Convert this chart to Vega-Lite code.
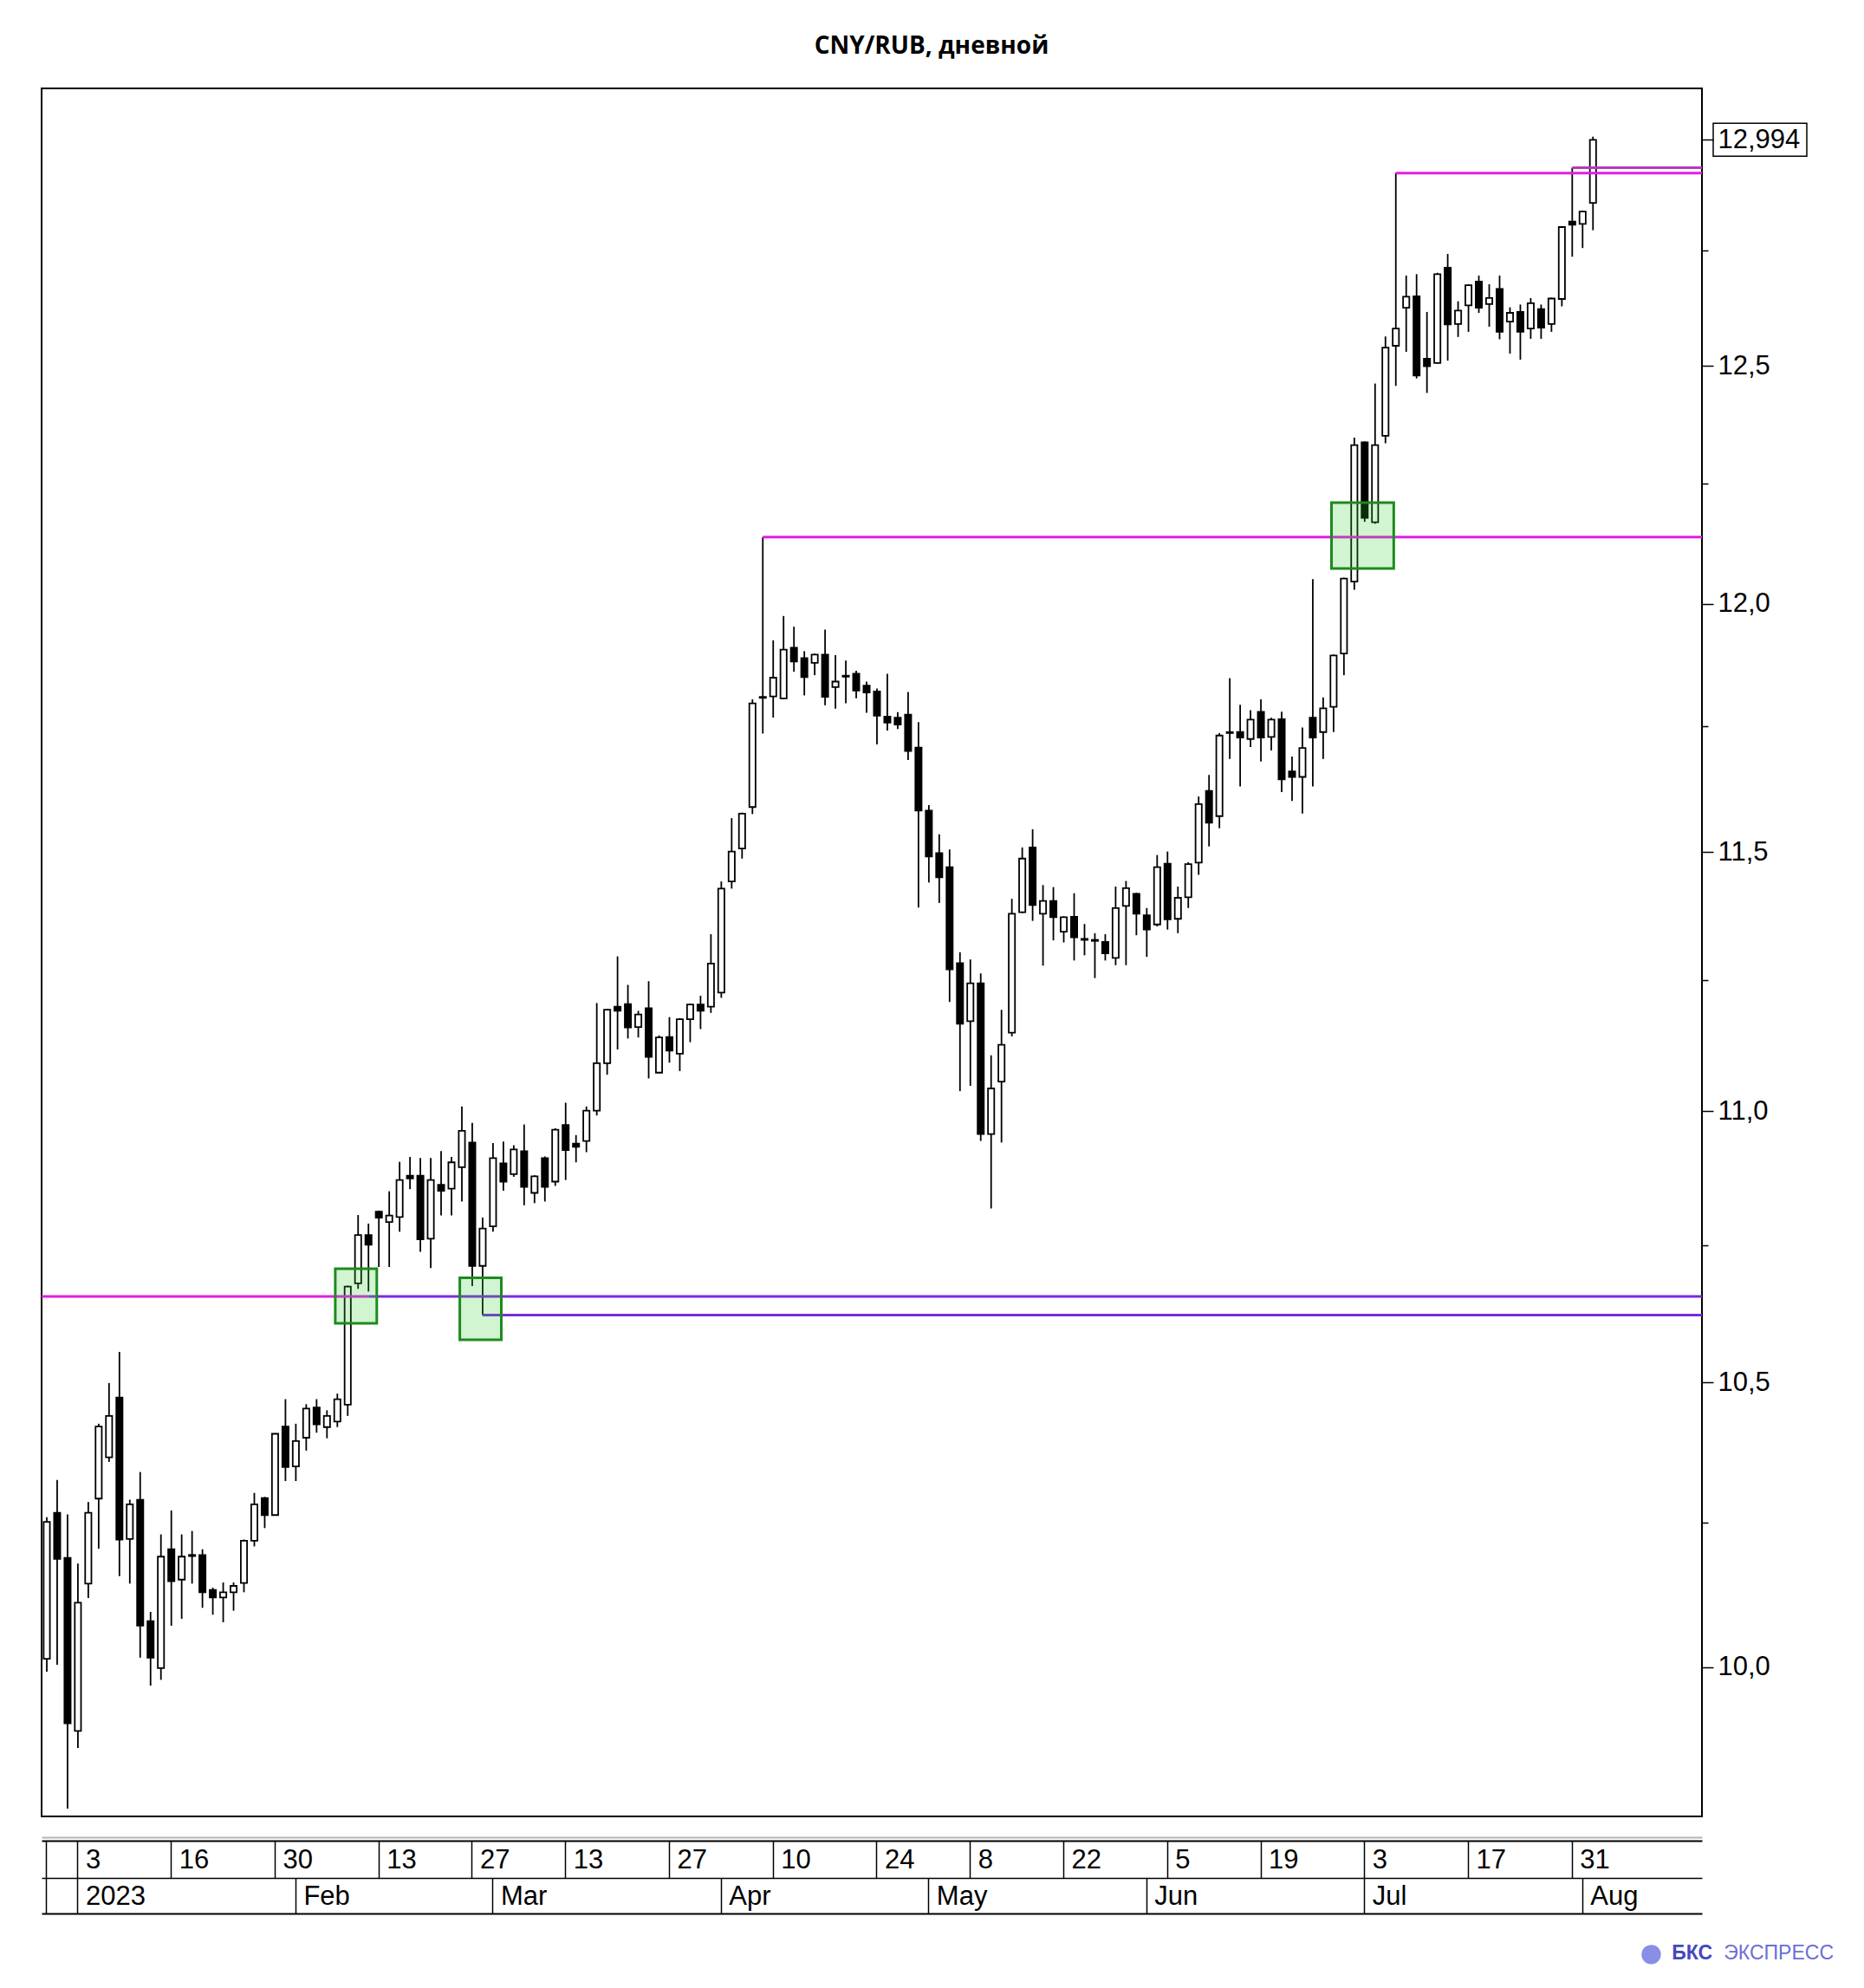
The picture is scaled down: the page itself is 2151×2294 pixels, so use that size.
{
  "$schema": "https://vega.github.io/schema/vega-lite/v6.json",
  "width": 1916,
  "height": 1994,
  "autosize": {"type": "none"},
  "padding": {"left": 48, "top": 102, "right": 187, "bottom": 198},
  "background": "white",
  "title": {"text": "CNY/RUB, дневной", "font": "Open Sans", "fontSize": 28, "fontWeight": "bold", "color": "black", "anchor": "middle", "dx": 69, "baseline": "middle", "offset": 20},
  "config": {"view": {"stroke": "black", "strokeWidth": 2}},
  "datasets": {
    "candles": [
      {"d":"2022-12-28","o":10.014,"h":10.26,"l":9.992,"c":10.252},
      {"d":"2022-12-29","o":10.268,"h":10.326,"l":10.004,"c":10.187},
      {"d":"2022-12-30","o":10.189,"h":10.265,"l":9.760,"c":9.904},
      {"d":"2023-01-03","o":9.891,"h":10.179,"l":9.862,"c":10.111},
      {"d":"2023-01-04","o":10.144,"h":10.287,"l":10.119,"c":10.268},
      {"d":"2023-01-05","o":10.293,"h":10.426,"l":10.205,"c":10.421},
      {"d":"2023-01-06","o":10.366,"h":10.499,"l":10.358,"c":10.440},
      {"d":"2023-01-09","o":10.473,"h":10.555,"l":10.157,"c":10.221},
      {"d":"2023-01-10","o":10.222,"h":10.291,"l":10.144,"c":10.283},
      {"d":"2023-01-11","o":10.291,"h":10.340,"l":10.016,"c":10.071},
      {"d":"2023-01-12","o":10.079,"h":10.095,"l":9.968,"c":10.016},
      {"d":"2023-01-13","o":9.998,"h":10.230,"l":9.978,"c":10.191},
      {"d":"2023-01-16","o":10.204,"h":10.272,"l":10.071,"c":10.148},
      {"d":"2023-01-17","o":10.151,"h":10.230,"l":10.083,"c":10.191},
      {"d":"2023-01-18","o":10.194,"h":10.236,"l":10.144,"c":10.192},
      {"d":"2023-01-19","o":10.194,"h":10.204,"l":10.102,"c":10.129},
      {"d":"2023-01-20","o":10.133,"h":10.137,"l":10.090,"c":10.120},
      {"d":"2023-01-23","o":10.120,"h":10.146,"l":10.077,"c":10.129},
      {"d":"2023-01-24","o":10.129,"h":10.146,"l":10.097,"c":10.140},
      {"d":"2023-01-25","o":10.145,"h":10.221,"l":10.129,"c":10.219},
      {"d":"2023-01-26","o":10.219,"h":10.303,"l":10.209,"c":10.283},
      {"d":"2023-01-27","o":10.294,"h":10.296,"l":10.241,"c":10.264},
      {"d":"2023-01-30","o":10.264,"h":10.409,"l":10.263,"c":10.408},
      {"d":"2023-01-31","o":10.421,"h":10.470,"l":10.324,"c":10.349},
      {"d":"2023-02-01","o":10.350,"h":10.426,"l":10.324,"c":10.395},
      {"d":"2023-02-02","o":10.401,"h":10.461,"l":10.378,"c":10.453},
      {"d":"2023-02-03","o":10.455,"h":10.470,"l":10.410,"c":10.425},
      {"d":"2023-02-06","o":10.420,"h":10.450,"l":10.400,"c":10.440},
      {"d":"2023-02-07","o":10.430,"h":10.480,"l":10.420,"c":10.470},
      {"d":"2023-02-08","o":10.460,"h":10.676,"l":10.440,"c":10.674},
      {"d":"2023-02-09","o":10.680,"h":10.806,"l":10.670,"c":10.769},
      {"d":"2023-02-10","o":10.769,"h":10.790,"l":10.665,"c":10.751},
      {"d":"2023-02-13","o":10.812,"h":10.814,"l":10.710,"c":10.801},
      {"d":"2023-02-14","o":10.793,"h":10.850,"l":10.710,"c":10.805},
      {"d":"2023-02-15","o":10.802,"h":10.905,"l":10.775,"c":10.871},
      {"d":"2023-02-16","o":10.879,"h":10.914,"l":10.854,"c":10.874},
      {"d":"2023-02-17","o":10.879,"h":10.912,"l":10.738,"c":10.761},
      {"d":"2023-02-20","o":10.762,"h":10.912,"l":10.708,"c":10.871},
      {"d":"2023-02-21","o":10.862,"h":10.925,"l":10.805,"c":10.851},
      {"d":"2023-02-22","o":10.855,"h":10.914,"l":10.805,"c":10.904},
      {"d":"2023-02-24","o":10.895,"h":11.009,"l":10.831,"c":10.963},
      {"d":"2023-02-27","o":10.941,"h":10.978,"l":10.675,"c":10.712},
      {"d":"2023-02-28","o":10.712,"h":10.801,"l":10.622,"c":10.781},
      {"d":"2023-03-01","o":10.785,"h":10.940,"l":10.775,"c":10.912},
      {"d":"2023-03-02","o":10.902,"h":10.943,"l":10.851,"c":10.868},
      {"d":"2023-03-03","o":10.882,"h":10.936,"l":10.877,"c":10.928},
      {"d":"2023-03-06","o":10.925,"h":10.975,"l":10.824,"c":10.858},
      {"d":"2023-03-07","o":10.847,"h":10.880,"l":10.828,"c":10.878},
      {"d":"2023-03-09","o":10.912,"h":10.915,"l":10.831,"c":10.858},
      {"d":"2023-03-10","o":10.868,"h":10.968,"l":10.860,"c":10.965},
      {"d":"2023-03-13","o":10.974,"h":11.016,"l":10.871,"c":10.927},
      {"d":"2023-03-14","o":10.939,"h":10.955,"l":10.904,"c":10.933},
      {"d":"2023-03-15","o":10.944,"h":11.009,"l":10.923,"c":11.001},
      {"d":"2023-03-16","o":11.001,"h":11.206,"l":10.992,"c":11.091},
      {"d":"2023-03-17","o":11.091,"h":11.195,"l":11.069,"c":11.193},
      {"d":"2023-03-20","o":11.199,"h":11.296,"l":11.117,"c":11.191},
      {"d":"2023-03-21","o":11.204,"h":11.241,"l":11.138,"c":11.159},
      {"d":"2023-03-22","o":11.160,"h":11.191,"l":11.140,"c":11.184},
      {"d":"2023-03-23","o":11.196,"h":11.248,"l":11.062,"c":11.103},
      {"d":"2023-03-24","o":11.073,"h":11.144,"l":11.072,"c":11.140},
      {"d":"2023-03-27","o":11.141,"h":11.179,"l":11.092,"c":11.115},
      {"d":"2023-03-28","o":11.109,"h":11.177,"l":11.076,"c":11.175},
      {"d":"2023-03-29","o":11.175,"h":11.205,"l":11.131,"c":11.203},
      {"d":"2023-03-30","o":11.203,"h":11.220,"l":11.156,"c":11.191},
      {"d":"2023-03-31","o":11.199,"h":11.339,"l":11.187,"c":11.282},
      {"d":"2023-04-03","o":11.226,"h":11.442,"l":11.216,"c":11.428},
      {"d":"2023-04-04","o":11.442,"h":11.567,"l":11.428,"c":11.501},
      {"d":"2023-04-05","o":11.507,"h":11.578,"l":11.487,"c":11.576},
      {"d":"2023-04-06","o":11.589,"h":11.805,"l":11.575,"c":11.797},
      {"d":"2023-04-07","o":11.808,"h":12.138,"l":11.736,"c":11.810},
      {"d":"2023-04-10","o":11.811,"h":11.925,"l":11.768,"c":11.849},
      {"d":"2023-04-11","o":11.807,"h":11.975,"l":11.805,"c":11.906},
      {"d":"2023-04-12","o":11.910,"h":11.953,"l":11.861,"c":11.882},
      {"d":"2023-04-13","o":11.889,"h":11.903,"l":11.813,"c":11.850},
      {"d":"2023-04-14","o":11.879,"h":11.898,"l":11.854,"c":11.896},
      {"d":"2023-04-17","o":11.896,"h":11.947,"l":11.793,"c":11.810},
      {"d":"2023-04-18","o":11.830,"h":11.895,"l":11.786,"c":11.841},
      {"d":"2023-04-19","o":11.853,"h":11.884,"l":11.797,"c":11.851},
      {"d":"2023-04-20","o":11.857,"h":11.863,"l":11.807,"c":11.823},
      {"d":"2023-04-21","o":11.833,"h":11.841,"l":11.778,"c":11.819},
      {"d":"2023-04-24","o":11.821,"h":11.827,"l":11.714,"c":11.772},
      {"d":"2023-04-25","o":11.770,"h":11.857,"l":11.742,"c":11.758},
      {"d":"2023-04-26","o":11.768,"h":11.779,"l":11.745,"c":11.754},
      {"d":"2023-04-27","o":11.774,"h":11.820,"l":11.683,"c":11.701},
      {"d":"2023-04-28","o":11.708,"h":11.759,"l":11.391,"c":11.582},
      {"d":"2023-05-02","o":11.582,"h":11.593,"l":11.440,"c":11.491},
      {"d":"2023-05-03","o":11.498,"h":11.535,"l":11.400,"c":11.450},
      {"d":"2023-05-04","o":11.470,"h":11.505,"l":11.208,"c":11.271},
      {"d":"2023-05-05","o":11.283,"h":11.304,"l":11.038,"c":11.166},
      {"d":"2023-05-08","o":11.171,"h":11.290,"l":11.048,"c":11.244},
      {"d":"2023-05-10","o":11.244,"h":11.263,"l":10.944,"c":10.957},
      {"d":"2023-05-11","o":10.957,"h":11.106,"l":10.818,"c":11.043},
      {"d":"2023-05-12","o":11.056,"h":11.193,"l":10.941,"c":11.126},
      {"d":"2023-05-15","o":11.149,"h":11.408,"l":11.142,"c":11.379},
      {"d":"2023-05-16","o":11.382,"h":11.509,"l":11.380,"c":11.487},
      {"d":"2023-05-17","o":11.509,"h":11.545,"l":11.365,"c":11.396},
      {"d":"2023-05-18","o":11.379,"h":11.435,"l":11.278,"c":11.404},
      {"d":"2023-05-19","o":11.404,"h":11.431,"l":11.327,"c":11.372},
      {"d":"2023-05-22","o":11.344,"h":11.374,"l":11.323,"c":11.372},
      {"d":"2023-05-23","o":11.373,"h":11.419,"l":11.288,"c":11.333},
      {"d":"2023-05-24","o":11.330,"h":11.359,"l":11.298,"c":11.328},
      {"d":"2023-05-25","o":11.326,"h":11.341,"l":11.254,"c":11.328},
      {"d":"2023-05-26","o":11.324,"h":11.339,"l":11.288,"c":11.302},
      {"d":"2023-05-29","o":11.293,"h":11.432,"l":11.279,"c":11.390},
      {"d":"2023-05-30","o":11.394,"h":11.443,"l":11.279,"c":11.429},
      {"d":"2023-05-31","o":11.418,"h":11.420,"l":11.337,"c":11.379},
      {"d":"2023-06-01","o":11.376,"h":11.390,"l":11.295,"c":11.348},
      {"d":"2023-06-02","o":11.358,"h":11.494,"l":11.354,"c":11.470},
      {"d":"2023-06-05","o":11.477,"h":11.501,"l":11.348,"c":11.368},
      {"d":"2023-06-06","o":11.369,"h":11.432,"l":11.341,"c":11.410},
      {"d":"2023-06-07","o":11.411,"h":11.480,"l":11.390,"c":11.476},
      {"d":"2023-06-08","o":11.479,"h":11.610,"l":11.455,"c":11.595},
      {"d":"2023-06-09","o":11.621,"h":11.653,"l":11.511,"c":11.558},
      {"d":"2023-06-13","o":11.571,"h":11.737,"l":11.547,"c":11.732},
      {"d":"2023-06-14","o":11.737,"h":11.848,"l":11.685,"c":11.739},
      {"d":"2023-06-15","o":11.739,"h":11.794,"l":11.630,"c":11.728},
      {"d":"2023-06-16","o":11.725,"h":11.783,"l":11.709,"c":11.764},
      {"d":"2023-06-19","o":11.780,"h":11.805,"l":11.680,"c":11.728},
      {"d":"2023-06-20","o":11.729,"h":11.768,"l":11.702,"c":11.764},
      {"d":"2023-06-21","o":11.765,"h":11.780,"l":11.619,"c":11.644},
      {"d":"2023-06-22","o":11.660,"h":11.690,"l":11.601,"c":11.649},
      {"d":"2023-06-23","o":11.649,"h":11.748,"l":11.576,"c":11.707},
      {"d":"2023-06-26","o":11.768,"h":12.051,"l":11.630,"c":11.728},
      {"d":"2023-06-27","o":11.739,"h":11.809,"l":11.685,"c":11.787},
      {"d":"2023-06-28","o":11.790,"h":11.896,"l":11.739,"c":11.894},
      {"d":"2023-06-29","o":11.898,"h":12.054,"l":11.854,"c":12.052},
      {"d":"2023-06-30","o":12.046,"h":12.347,"l":12.029,"c":12.331},
      {"d":"2023-07-03","o":12.337,"h":12.339,"l":12.170,"c":12.178},
      {"d":"2023-07-04","o":12.169,"h":12.462,"l":12.166,"c":12.331},
      {"d":"2023-07-05","o":12.351,"h":12.563,"l":12.335,"c":12.539},
      {"d":"2023-07-06","o":12.543,"h":12.920,"l":12.457,"c":12.580},
      {"d":"2023-07-07","o":12.625,"h":12.695,"l":12.530,"c":12.649},
      {"d":"2023-07-10","o":12.650,"h":12.698,"l":12.473,"c":12.479},
      {"d":"2023-07-11","o":12.515,"h":12.616,"l":12.442,"c":12.499},
      {"d":"2023-07-12","o":12.506,"h":12.701,"l":12.505,"c":12.698},
      {"d":"2023-07-13","o":12.712,"h":12.742,"l":12.511,"c":12.589},
      {"d":"2023-07-14","o":12.590,"h":12.639,"l":12.562,"c":12.619},
      {"d":"2023-07-17","o":12.630,"h":12.676,"l":12.573,"c":12.674},
      {"d":"2023-07-18","o":12.682,"h":12.695,"l":12.614,"c":12.625},
      {"d":"2023-07-19","o":12.633,"h":12.676,"l":12.584,"c":12.646},
      {"d":"2023-07-20","o":12.666,"h":12.695,"l":12.557,"c":12.573},
      {"d":"2023-07-21","o":12.595,"h":12.626,"l":12.526,"c":12.614},
      {"d":"2023-07-24","o":12.616,"h":12.632,"l":12.513,"c":12.573},
      {"d":"2023-07-25","o":12.580,"h":12.646,"l":12.558,"c":12.635},
      {"d":"2023-07-26","o":12.622,"h":12.632,"l":12.558,"c":12.582},
      {"d":"2023-07-27","o":12.590,"h":12.647,"l":12.573,"c":12.645},
      {"d":"2023-07-28","o":12.644,"h":12.803,"l":12.628,"c":12.801},
      {"d":"2023-07-31","o":12.813,"h":12.932,"l":12.736,"c":12.806},
      {"d":"2023-08-01","o":12.808,"h":12.837,"l":12.755,"c":12.835},
      {"d":"2023-08-02","o":12.854,"h":13.001,"l":12.794,"c":12.994}
    ],
    "levels": [
      {"s":"2023-07-06","e":"2023-08-16","v":12.920,"k":"resistance"},
      {"s":"2023-07-31","e":"2023-08-16","v":12.932,"k":"resistance2"},
      {"s":"2023-04-07","e":"2023-08-16","v":12.138,"k":"resistance"},
      {"s":"2023-02-10","e":"2023-08-16","v":10.656,"k":"support"},
      {"s":"2023-02-28","e":"2023-08-16","v":10.622,"k":"support"}
    ],
    "levelsLeft": [
      {"s":"2022-12-28","e":"2023-02-10","v":10.656,"k":"resistance"}
    ],
    "boxes": [
      {"s":"2023-02-07","e":"2023-02-13","lo":10.607,"hi":10.707},
      {"s":"2023-02-24","e":"2023-03-02","lo":10.577,"hi":10.690},
      {"s":"2023-06-28","e":"2023-07-06","lo":12.073,"hi":12.210}
    ],
    "lastPrice": [
      {"v":12.994}
    ]
  },
  "resolve": {"axis": {"x": "independent", "y": "independent"}},
  "layer": [
    {
      "data": {"name": "candles"},
      "mark": {"type": "rule", "color": "black", "strokeWidth": 1.8},
      "encoding": {
        "x": {
          "field": "d", "type": "ordinal", "bandPosition": 0.5,
          "scale": {"type": "band", "paddingInner": 0, "paddingOuter": 0, "domain": ["2022-12-28","2022-12-29","2022-12-30","2023-01-03","2023-01-04","2023-01-05","2023-01-06","2023-01-09","2023-01-10","2023-01-11","2023-01-12","2023-01-13","2023-01-16","2023-01-17","2023-01-18","2023-01-19","2023-01-20","2023-01-23","2023-01-24","2023-01-25","2023-01-26","2023-01-27","2023-01-30","2023-01-31","2023-02-01","2023-02-02","2023-02-03","2023-02-06","2023-02-07","2023-02-08","2023-02-09","2023-02-10","2023-02-13","2023-02-14","2023-02-15","2023-02-16","2023-02-17","2023-02-20","2023-02-21","2023-02-22","2023-02-24","2023-02-27","2023-02-28","2023-03-01","2023-03-02","2023-03-03","2023-03-06","2023-03-07","2023-03-09","2023-03-10","2023-03-13","2023-03-14","2023-03-15","2023-03-16","2023-03-17","2023-03-20","2023-03-21","2023-03-22","2023-03-23","2023-03-24","2023-03-27","2023-03-28","2023-03-29","2023-03-30","2023-03-31","2023-04-03","2023-04-04","2023-04-05","2023-04-06","2023-04-07","2023-04-10","2023-04-11","2023-04-12","2023-04-13","2023-04-14","2023-04-17","2023-04-18","2023-04-19","2023-04-20","2023-04-21","2023-04-24","2023-04-25","2023-04-26","2023-04-27","2023-04-28","2023-05-02","2023-05-03","2023-05-04","2023-05-05","2023-05-08","2023-05-10","2023-05-11","2023-05-12","2023-05-15","2023-05-16","2023-05-17","2023-05-18","2023-05-19","2023-05-22","2023-05-23","2023-05-24","2023-05-25","2023-05-26","2023-05-29","2023-05-30","2023-05-31","2023-06-01","2023-06-02","2023-06-05","2023-06-06","2023-06-07","2023-06-08","2023-06-09","2023-06-13","2023-06-14","2023-06-15","2023-06-16","2023-06-19","2023-06-20","2023-06-21","2023-06-22","2023-06-23","2023-06-26","2023-06-27","2023-06-28","2023-06-29","2023-06-30","2023-07-03","2023-07-04","2023-07-05","2023-07-06","2023-07-07","2023-07-10","2023-07-11","2023-07-12","2023-07-13","2023-07-14","2023-07-17","2023-07-18","2023-07-19","2023-07-20","2023-07-21","2023-07-24","2023-07-25","2023-07-26","2023-07-27","2023-07-28","2023-07-31","2023-08-01","2023-08-02","2023-08-03","2023-08-04","2023-08-07","2023-08-08","2023-08-09","2023-08-10","2023-08-11","2023-08-14","2023-08-15","2023-08-16"]},
          "axis": {"orient": "bottom", "offset": 24, "ticks": false, "labels": false, "domainColor": "#b4b4b4", "domainWidth": 2, "title": null, "grid": false}
        },
        "y": {
          "field": "l", "type": "quantitative",
          "scale": {"type": "log", "domain": [9.747, 13.109], "nice": false, "zero": false},
          "axis": {"orient": "right", "values": [10.25, 10.75, 11.25, 11.75, 12.25, 12.75], "labels": false, "tickSize": 7, "tickColor": "black", "tickWidth": 1.5, "domain": false, "grid": false, "title": null}
        },
        "y2": {"field": "h"}
      }
    },
    {
      "data": {"name": "candles"},
      "mark": {"type": "bar", "width": {"band": 0.6}, "stroke": "black", "strokeWidth": 1.8},
      "encoding": {
        "x": {
          "field": "d", "type": "ordinal",
          "axis": {"orient": "bottom", "offset": 28, "bandPosition": 0.5, "values": ["2022-12-28","2023-01-03","2023-01-16","2023-01-30","2023-02-13","2023-02-27","2023-03-13","2023-03-27","2023-04-10","2023-04-24","2023-05-08","2023-05-22","2023-06-05","2023-06-19","2023-07-03","2023-07-17","2023-07-31"], "labelExpr": "datum.value == '2022-12-28' ? '' : '' + toNumber(slice(datum.value, 8))", "tickSize": 43, "tickWidth": 1.5, "tickColor": "black", "domainColor": "black", "domainWidth": 2, "labelAlign": "left", "labelBaseline": "middle", "labelPadding": -21, "labelOffset": 9, "labelAngle": 0, "labelFontSize": 31, "labelFont": "Liberation Sans", "labelColor": "black", "labelOverlap": false, "labelBound": false, "labelFlush": false, "title": null, "grid": false}
        },
        "y": {
          "field": "o", "type": "quantitative",
          "scale": {"type": "log", "domain": [9.747, 13.109], "nice": false, "zero": false},
          "axis": {"orient": "right", "domain": false, "grid": false, "title": null, "values": [10, 10.5, 11, 11.5, 12, 12.5, 12.994], "labelExpr": "datum.value == 12.994 ? '12,994' : replace(format(datum.value, '.1f'), '.', ',')", "tickSize": 13, "tickColor": "black", "tickWidth": 1.5, "labelFontSize": 31, "labelFont": "Liberation Sans", "labelColor": "black", "labelPadding": 5, "labelBaseline": "middle", "labelAlign": "left", "labelOverlap": false, "labelBound": false, "labelFlush": false, "labelLimit": 0}
        },
        "y2": {"field": "c"},
        "fill": {"condition": {"test": "datum.c >= datum.o", "value": "white"}, "value": "black"}
      }
    },
    {
      "data": {"name": "levels"},
      "mark": {"type": "rule", "strokeWidth": 3},
      "encoding": {
        "x": {
          "field": "s", "type": "ordinal", "bandPosition": 0.5,
          "axis": {"orient": "bottom", "offset": 71, "bandPosition": 0.5, "values": ["2022-12-28","2023-01-03","2023-02-01","2023-03-01","2023-04-03","2023-05-02","2023-06-01","2023-07-03","2023-08-01"], "labelExpr": "['', '2023', 'Feb', 'Mar', 'Apr', 'May', 'Jun', 'Jul', 'Aug'][indexof(['2022-12-28','2023-01-03','2023-02-01','2023-03-01','2023-04-03','2023-05-02','2023-06-01','2023-07-03','2023-08-01'], datum.value)]", "tickSize": 41, "tickWidth": 1.5, "tickColor": "black", "domainColor": "black", "domainWidth": 1.5, "labelAlign": "left", "labelBaseline": "middle", "labelPadding": -20, "labelOffset": 9, "labelAngle": 0, "labelFontSize": 31, "labelFont": "Liberation Sans", "labelColor": "black", "labelOverlap": false, "labelBound": false, "labelFlush": false, "title": null, "grid": false}
        },
        "x2": {"field": "e", "bandPosition": 1},
        "y": {"field": "v", "type": "quantitative", "scale": {"type": "log", "domain": [9.747, 13.109], "nice": false, "zero": false}, "axis": null},
        "color": {"field": "k", "type": "nominal", "scale": {"domain": ["resistance", "resistance2", "support"], "range": ["#e21ee2", "#b43cb4", "#7a2ae0"]}, "legend": null}
      }
    },
    {
      "data": {"name": "levelsLeft"},
      "mark": {"type": "rule", "strokeWidth": 3},
      "encoding": {
        "x": {"field": "s", "type": "ordinal", "bandPosition": 0, "axis": null},
        "x2": {"field": "e", "bandPosition": 0.5},
        "y": {"field": "v", "type": "quantitative", "scale": {"type": "log", "domain": [9.747, 13.109], "nice": false, "zero": false}, "axis": null},
        "color": {"field": "k", "type": "nominal", "legend": null}
      }
    },
    {
      "data": {"name": "boxes"},
      "mark": {"type": "rect", "fill": "#2ecc2e", "fillOpacity": 0.22, "stroke": "#1e8a1e", "strokeWidth": 3},
      "encoding": {
        "x": {
          "field": "s", "type": "ordinal", "bandPosition": 0.3,
          "axis": {"orient": "bottom", "offset": 112, "values": ["2023-08-14", "2023-08-15", "2023-08-16"], "ticks": false, "tickSize": 0, "labelExpr": "datum.value == '2023-08-14' ? '●' : datum.value == '2023-08-15' ? 'БКС' : 'ЭКСПРЕСС'", "labelAlign": "right", "labelBaseline": "middle", "labelOffset": {"condition": [{"test": "datum.value == '2023-08-14'", "value": -13}, {"test": "datum.value == '2023-08-15'", "value": 30}], "value": 158}, "labelPadding": 45, "labelAngle": 0, "labelFontSize": {"condition": {"test": "datum.value == '2023-08-14'", "value": 52}, "value": 23}, "labelFontWeight": {"condition": {"test": "datum.value == '2023-08-15'", "value": "bold"}, "value": "normal"}, "labelFont": "Liberation Sans", "labelColor": {"condition": [{"test": "datum.value == '2023-08-16'", "value": "#6a6ed6"}, {"test": "datum.value == '2023-08-14'", "value": "#8a8ee6"}], "value": "#4448c0"}, "labelLimit": 0, "domainColor": "black", "domainWidth": 2, "labelOverlap": false, "labelBound": false, "labelFlush": false, "title": null, "grid": false}
        },
        "x2": {"field": "e", "bandPosition": 0.3},
        "y": {"field": "lo", "type": "quantitative", "scale": {"type": "log", "domain": [9.747, 13.109], "nice": false, "zero": false}, "axis": null},
        "y2": {"field": "hi"}
      }
    },
    {
      "data": {"name": "lastPrice"},
      "mark": {"type": "rect", "fillOpacity": 0, "fill": "white", "stroke": "black", "strokeWidth": 1.5, "xOffset": 13, "x2Offset": 121, "yOffset": -19, "y2Offset": 19},
      "encoding": {
        "x": {"datum": "2023-08-16", "type": "ordinal", "bandPosition": 1, "axis": null},
        "x2": {"datum": "2023-08-16", "bandPosition": 1},
        "y": {"field": "v", "type": "quantitative", "scale": {"type": "log", "domain": [9.747, 13.109], "nice": false, "zero": false}, "axis": null},
        "y2": {"field": "v"}
      }
    }
  ]
}
